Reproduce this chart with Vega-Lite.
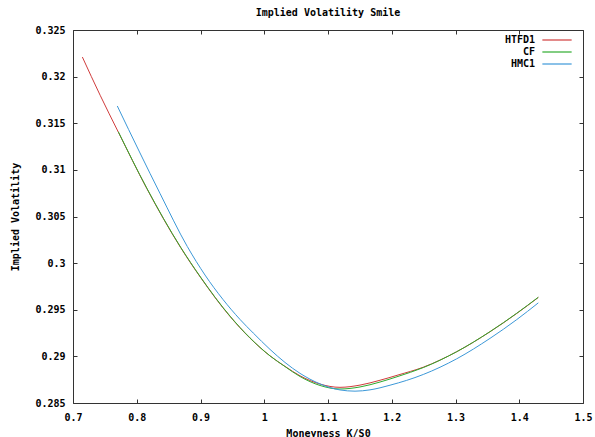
{
  "$schema": "https://vega.github.io/schema/vega-lite/v6.json",
  "width": 510,
  "height": 373,
  "autosize": {"type": "none"},
  "padding": {"left": 73, "top": 30, "right": 12, "bottom": 34},
  "background": "white",
  "title": {
    "text": "Implied Volatility Smile",
    "font": "DejaVu Sans Mono",
    "fontWeight": "bold",
    "fontSize": 10,
    "color": "#000",
    "anchor": "middle",
    "baseline": "middle",
    "offset": 2
  },
  "data": {
    "values": [
      {"series": "HTFD1", "x": 0.7147, "y": 0.3221},
      {"series": "HTFD1", "x": 0.7426, "y": 0.318},
      {"series": "HTFD1", "x": 0.7711, "y": 0.31405},
      {"series": "HTFD1", "x": 0.8156, "y": 0.30802},
      {"series": "HTFD1", "x": 0.8689, "y": 0.30166},
      {"series": "HTFD1", "x": 0.9, "y": 0.29847},
      {"series": "HTFD1", "x": 0.9463, "y": 0.29428},
      {"series": "HTFD1", "x": 0.9776, "y": 0.29196},
      {"series": "HTFD1", "x": 1.009, "y": 0.29005},
      {"series": "HTFD1", "x": 1.0325, "y": 0.28893},
      {"series": "HTFD1", "x": 1.0561, "y": 0.28792},
      {"series": "HTFD1", "x": 1.0875, "y": 0.28703},
      {"series": "HTFD1", "x": 1.1188, "y": 0.28668},
      {"series": "HTFD1", "x": 1.1502, "y": 0.28692},
      {"series": "HTFD1", "x": 1.1816, "y": 0.28744},
      {"series": "HTFD1", "x": 1.2098, "y": 0.288},
      {"series": "HTFD1", "x": 1.2495, "y": 0.28884},
      {"series": "HTFD1", "x": 1.3019, "y": 0.2905},
      {"series": "HTFD1", "x": 1.3541, "y": 0.29264},
      {"series": "HTFD1", "x": 1.396, "y": 0.2946},
      {"series": "HTFD1", "x": 1.4299, "y": 0.29632},
      {"series": "CF", "x": 0.7711, "y": 0.31409},
      {"series": "CF", "x": 0.8156, "y": 0.30806},
      {"series": "CF", "x": 0.8689, "y": 0.3017},
      {"series": "CF", "x": 0.9, "y": 0.29851},
      {"series": "CF", "x": 0.9463, "y": 0.29432},
      {"series": "CF", "x": 0.9776, "y": 0.29199},
      {"series": "CF", "x": 1.009, "y": 0.29006},
      {"series": "CF", "x": 1.0325, "y": 0.28891},
      {"series": "CF", "x": 1.0561, "y": 0.28784},
      {"series": "CF", "x": 1.0875, "y": 0.28688},
      {"series": "CF", "x": 1.1188, "y": 0.2865},
      {"series": "CF", "x": 1.1502, "y": 0.28672},
      {"series": "CF", "x": 1.1816, "y": 0.28725},
      {"series": "CF", "x": 1.2098, "y": 0.28785},
      {"series": "CF", "x": 1.2495, "y": 0.2888},
      {"series": "CF", "x": 1.3019, "y": 0.2905},
      {"series": "CF", "x": 1.3541, "y": 0.29265},
      {"series": "CF", "x": 1.396, "y": 0.29462},
      {"series": "CF", "x": 1.4299, "y": 0.29634},
      {"series": "HMC1", "x": 0.7695, "y": 0.31685},
      {"series": "HMC1", "x": 0.8051, "y": 0.31181},
      {"series": "HMC1", "x": 0.8365, "y": 0.30747},
      {"series": "HMC1", "x": 0.8793, "y": 0.30178},
      {"series": "HMC1", "x": 0.9071, "y": 0.29872},
      {"series": "HMC1", "x": 0.9353, "y": 0.2961},
      {"series": "HMC1", "x": 0.962, "y": 0.29396},
      {"series": "HMC1", "x": 0.9828, "y": 0.2925},
      {"series": "HMC1", "x": 1.009, "y": 0.29075},
      {"series": "HMC1", "x": 1.0325, "y": 0.28935},
      {"series": "HMC1", "x": 1.0561, "y": 0.28818},
      {"series": "HMC1", "x": 1.0875, "y": 0.28705},
      {"series": "HMC1", "x": 1.1188, "y": 0.2864},
      {"series": "HMC1", "x": 1.1424, "y": 0.28627},
      {"series": "HMC1", "x": 1.1659, "y": 0.28641},
      {"series": "HMC1", "x": 1.1973, "y": 0.28691},
      {"series": "HMC1", "x": 1.2495, "y": 0.28806},
      {"series": "HMC1", "x": 1.3019, "y": 0.28974},
      {"series": "HMC1", "x": 1.3541, "y": 0.29193},
      {"series": "HMC1", "x": 1.396, "y": 0.29394},
      {"series": "HMC1", "x": 1.4299, "y": 0.29574}
    ]
  },
  "layer": [
    {
      "mark": {"type": "line", "strokeOpacity": 0},
      "encoding": {
        "x": {
          "field": "x", "type": "quantitative",
          "scale": {"domain": [0.7, 1.5], "nice": false, "zero": false},
          "axis": {
            "orient": "top",
            "values": [0.7, 0.8, 0.9, 1, 1.1, 1.2, 1.3, 1.4, 1.5],
            "labels": false,
            "tickSize": -4,
            "title": null
          }
        },
        "y": {
          "field": "y", "type": "quantitative",
          "scale": {"domain": [0.285, 0.325], "nice": false, "zero": false},
          "axis": {
            "orient": "right",
            "values": [0.285, 0.29, 0.295, 0.3, 0.305, 0.31, 0.315, 0.32, 0.325],
            "labels": false,
            "tickSize": -4,
            "title": null
          }
        }
      }
    },
    {
      "mark": {"type": "line", "strokeWidth": 1, "interpolate": "monotone"},
      "encoding": {
        "x": {
          "field": "x", "type": "quantitative",
          "axis": {
            "orient": "bottom",
            "values": [0.7, 0.8, 0.9, 1, 1.1, 1.2, 1.3, 1.4, 1.5],
            "format": "~g",
            "tickSize": -4,
            "labelPadding": 13,
            "title": "Moneyness K/S0",
            "titlePadding": 6
          }
        },
        "y": {
          "field": "y", "type": "quantitative",
          "axis": {
            "orient": "left",
            "values": [0.285, 0.29, 0.295, 0.3, 0.305, 0.31, 0.315, 0.32, 0.325],
            "format": "~g",
            "tickSize": -4,
            "labelPadding": 12,
            "title": "Implied Volatility",
            "titlePadding": 14
          }
        },
        "color": {
          "field": "series", "type": "nominal",
          "scale": {"domain": ["HTFD1", "CF", "HMC1"], "range": ["#d03c3c", "#2eab2e", "#3c98d8"]},
          "legend": {
            "orient": "none",
            "legendX": 477,
            "legendY": 3,
            "title": null,
            "padding": 0,
            "rowPadding": 0,
            "symbolType": "M-2.44,0H2.44",
            "symbolSize": 144,
            "symbolStrokeWidth": 1.2,
            "symbolFillColor": "transparent",
            "symbolStrokeColor": {"expr": "scale('color', datum.value)"},
            "labelAlign": "right",
            "labelOffset": -29,
            "labelFont": "DejaVu Sans Mono",
            "labelFontWeight": "bold",
            "labelFontSize": 10,
            "labelColor": "#000"
          }
        }
      }
    }
  ],
  "resolve": {"axis": {"x": "independent", "y": "independent"}},
  "config": {
    "view": {"stroke": "#333", "strokeWidth": 1},
    "axis": {
      "domain": false,
      "grid": false,
      "ticks": true,
      "tickColor": "#333",
      "tickWidth": 1,
      "labelFont": "DejaVu Sans Mono",
      "labelFontWeight": "bold",
      "labelFontSize": 10,
      "labelColor": "#000",
      "labelFlush": false,
      "labelOverlap": false,
      "titleFont": "DejaVu Sans Mono",
      "titleFontWeight": "bold",
      "titleFontSize": 10,
      "titleColor": "#000"
    }
  }
}
